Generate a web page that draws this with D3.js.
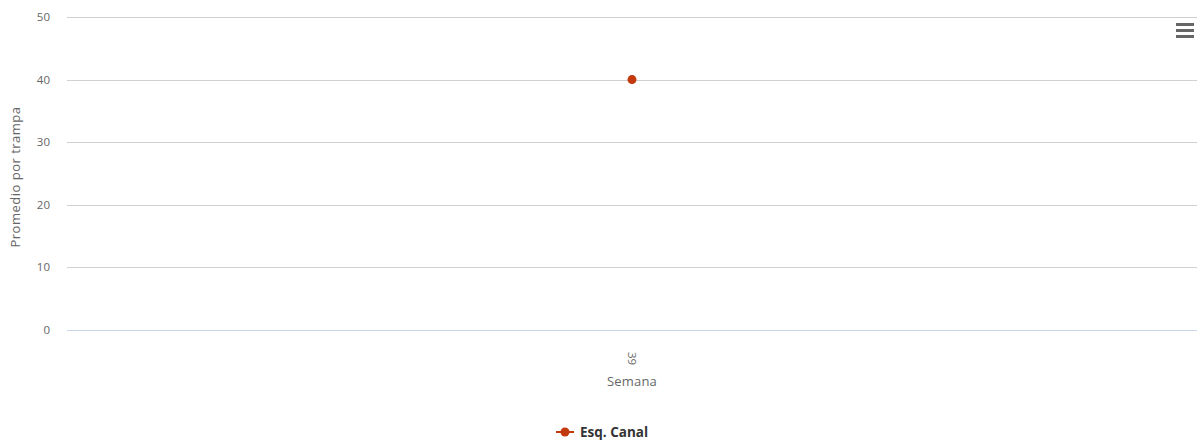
<!DOCTYPE html>
<html>
<head>
<meta charset="utf-8">
<script src="https://cdn.jsdelivr.net/npm/d3@7"></script>
<style>
  body { margin: 0; background: #fff; }
  svg { font-family: "Open Sans", sans-serif; }
</style>
</head>
<body>
<script>
// chart values
var weeks = ["39"],
    seriesName = "Esq. Canal",
    values = [40],
    yTicks = [0, 10, 20, 30, 40, 50];

var W = 1197, H = 442,
    margin = {top: 17, right: 0, bottom: 112, left: 67},
    width = W - margin.left - margin.right,
    height = H - margin.top - margin.bottom,
    red = "#c2390d";

var svg = d3.select("body").append("svg")
    .attr("width", W)
    .attr("height", H);

var plot = svg.append("g")
    .attr("transform", "translate(" + margin.left + "," + margin.top + ")");

var x = d3.scaleBand().domain(weeks).range([0, width]);
var y = d3.scaleLinear().domain([0, 50]).range([height, 0]);

// gridlines
plot.selectAll("line.grid")
    .data(yTicks)
    .enter().append("line")
    .attr("class", "grid")
    .attr("x1", 0).attr("x2", width)
    .attr("y1", function(d) { return Math.round(y(d)) + 0.5; })
    .attr("y2", function(d) { return Math.round(y(d)) + 0.5; })
    .attr("stroke", function(d) { return d === 0 ? "#ccd6eb" : "#d0d0d0"; })
    .attr("stroke-width", 1);

// y tick labels
plot.selectAll("text.ytick")
    .data(yTicks)
    .enter().append("text")
    .attr("class", "ytick")
    .attr("x", -17)
    .attr("y", function(d) { return y(d) + 4; })
    .attr("text-anchor", "end")
    .attr("font-size", 11.5)
    .attr("fill", "#666")
    .text(function(d) { return d; });

// y title
svg.append("text")
    .attr("transform", "translate(20,177) rotate(-90)")
    .attr("text-anchor", "middle")
    .attr("font-size", 13)
    .attr("letter-spacing", 0.5)
    .attr("fill", "#666")
    .text("Promedio por trampa");

// x tick labels (rotated)
plot.selectAll("text.xtick")
    .data(weeks)
    .enter().append("text")
    .attr("class", "xtick")
    .attr("transform", function(d) {
      return "translate(" + (x(d) + x.bandwidth() / 2 - 4) + "," + (height + 22) + ") rotate(90)";
    })
    .attr("text-anchor", "start")
    .attr("font-size", 11.5)
    .attr("fill", "#666")
    .text(function(d) { return d; });

// x title
plot.append("text")
    .attr("x", width / 2)
    .attr("y", height + 56)
    .attr("text-anchor", "middle")
    .attr("font-size", 13)
    .attr("letter-spacing", 0.2)
    .attr("fill", "#666")
    .text("Semana");

// series
var pts = weeks.map(function(w, i) { return {w: w, v: values[i]}; });
plot.append("path")
    .datum(pts)
    .attr("fill", "none")
    .attr("stroke", red)
    .attr("stroke-width", 2)
    .attr("d", d3.line()
      .x(function(d) { return x(d.w) + x.bandwidth() / 2; })
      .y(function(d) { return y(d.v); }));
plot.selectAll("circle.pt")
    .data(pts)
    .enter().append("circle")
    .attr("class", "pt")
    .attr("cx", function(d) { return x(d.w) + x.bandwidth() / 2; })
    .attr("cy", function(d) { return y(d.v); })
    .attr("r", 4.5)
    .attr("fill", red);

// legend
var legend = svg.append("g").attr("transform", "translate(556,432)");
legend.append("line")
    .attr("x1", 0).attr("x2", 18).attr("y1", 0).attr("y2", 0)
    .attr("stroke", red).attr("stroke-width", 2);
legend.append("circle").attr("cx", 9).attr("cy", 0).attr("r", 4.5).attr("fill", red);
legend.append("text")
    .attr("x", 24).attr("y", 5)
    .attr("font-size", 13.5)
    .attr("font-weight", "bold")
    .attr("fill", "#333")
    .text(seriesName);

// menu icon
var menu = svg.append("g").attr("transform", "translate(1176,24)");
[0, 6, 12].forEach(function(dy) {
  menu.append("line")
    .attr("x1", 0).attr("x2", 18)
    .attr("y1", dy + 0.5).attr("y2", dy + 0.5)
    .attr("stroke", "#666").attr("stroke-width", 3);
});
</script>
</body>
</html>
